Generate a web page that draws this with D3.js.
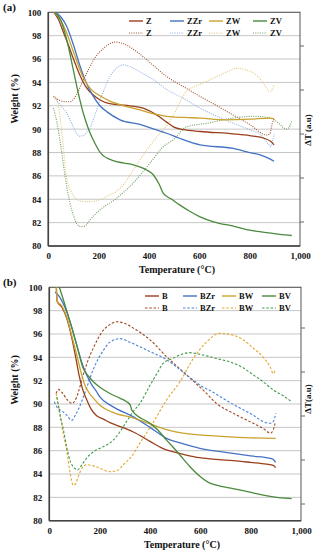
<!DOCTYPE html>
<html>
<head>
<meta charset="utf-8">
<script src="https://cdn.jsdelivr.net/npm/d3@7"></script>
<style>
  body { margin: 0; background: #fff; }
  svg { display: block; }
  text { font-family: "Liberation Serif", "Times New Roman", serif; font-weight: bold; fill: #111; }
</style>
</head>
<body>
<svg id="fig" width="316" height="550"></svg>
<script>
// Panel (a) - TG curves (solid) and DTA curves (dotted), [temperature, value]
const zTG   = [[22,100],[40,99.4],[60,98.3],[80,97.2],[100,96],[126,94.6],[150,93.6],[180,92.9],[206,92.5],[240,92.2],[272,92.1],[325,92.0],[377,91.8],[432,91.2],[470,90.6],[497,90.2],[540,89.95],[603,89.8],[735,89.6],[800,89.45],[860,89.2],[887,88.9],[897,88.65]];
const zzrTG = [[30,100],[50,99.6],[73,98.8],[100,97.2],[126,95.4],[150,94],[179,92.8],[205,92.0],[232,91.5],[285,90.8],[364,90.4],[420,90],[470,89.65],[523,89.2],[603,88.65],[735,88.35],[800,88.0],[841,87.8],[880,87.45],[897,87.25]];
const zwTG  = [[22,100],[40,99.6],[70,98.4],[100,96.6],[139,94.4],[170,93.4],[210,92.8],[245,92.4],[300,92.0],[364,91.65],[420,91.3],[470,91.1],[540,91.0],[603,90.95],[700,90.8],[800,90.85],[880,90.95],[897,90.9]];
const zvTG  = [[25,100],[50,99.3],[75,97.5],[100,95],[120,93],[140,91.3],[160,90],[185,88.8],[210,87.9],[258,87.3],[300,87.1],[338,86.95],[391,86.5],[417,86.1],[440,85.3],[457,84.5],[490,84],[523,83.5],[560,83],[603,82.5],[660,82.05],[735,81.7],[800,81.35],[868,81.15],[920,81.0],[967,80.9]];
const zDTA   = [[20,92.8],[42,92.5],[70,92.35],[86,92.35],[105,92.7],[120,93.3],[139,94.2],[160,95.1],[179,95.9],[219,96.9],[265,97.45],[300,97.3],[340,96.8],[377,96.2],[420,95.4],[470,94.5],[540,93.6],[603,92.8],[670,92.0],[735,91.2],[800,90.4],[868,89.5],[880,89.6],[890,90.5],[897,90.9]];
const zzrDTA = [[25,92.7],[50,92],[73,91.4],[95,90.4],[113,89.6],[126,89.4],[139,89.45],[155,89.8],[166,90.1],[185,91.2],[206,92.5],[245,94.5],[270,95.2],[298,95.5],[330,95.3],[364,94.9],[420,94.2],[470,93.4],[540,92.6],[603,91.8],[670,91.1],[735,90.5],[800,89.95],[850,89.4],[875,88.7],[885,88.5],[893,89.2],[898,89.6]];
const zwDTA  = [[25,92.8],[40,92.0],[55,89.5],[73,85.8],[90,84.7],[113,84.0],[140,83.8],[166,83.8],[210,84.0],[245,84.4],[272,84.7],[300,85.3],[338,86.5],[391,88.2],[430,89.3],[457,89.9],[497,91.2],[530,92.6],[550,93.3],[576,93.6],[620,94.0],[669,94.5],[710,94.9],[748,95.2],[780,95.1],[815,94.8],[850,94.1],[881,93.2],[890,93.4],[897,93.8]];
const zvDTA  = [[20,91.8],[35,90.5],[50,88.5],[70,85.5],[86,83.7],[100,82.6],[113,81.9],[130,81.65],[145,81.7],[166,82.25],[206,83.1],[272,84.1],[338,85.4],[404,87.1],[457,88.5],[497,89.1],[550,90.2],[630,90.5],[735,90.95],[815,91.1],[870,91.0],[897,90.8],[920,90.4],[945,90.0],[955,90.1],[967,90.65]];

// Panel (b)
const bTG   = [[28,100],[31,98.8],[50,98.3],[70,97.3],[90,95.6],[105,94],[118,92.5],[132,91.3],[148,90.4],[165,89.6],[188,89.0],[215,88.7],[241,88.4],[290,88.0],[334,87.6],[400,86.8],[450,86.2],[493,85.9],[540,85.65],[598,85.4],[660,85.25],[731,85.15],[800,85.0],[863,84.85],[890,84.75],[899,84.55]];
const bzrTG = [[23,99.6],[40,99.2],[69,97.9],[90,96.5],[109,95.05],[130,93.5],[148,92.5],[170,91.6],[188,91.05],[201,90.6],[250,89.8],[334,88.9],[400,88.0],[466,87.05],[530,86.6],[598,86.2],[700,85.85],[800,85.55],[877,85.35],[890,85.25],[899,85.0]];
const bwTG  = [[28,100],[31,98.8],[50,98.4],[70,97.4],[90,95.8],[109,94.2],[125,92.8],[140,91.7],[160,90.9],[175,90.5],[201,89.9],[250,89.3],[334,88.8],[400,88.3],[466,87.8],[530,87.5],[598,87.35],[700,87.2],[800,87.1],[899,87.05]];
const bvTG  = [[40,100],[55,99],[69,98],[90,96.5],[109,95.05],[135,93.05],[155,92.4],[175,91.9],[210,91.3],[241,90.9],[280,90.5],[307,90.2],[322,89.9],[327,89.5],[334,89.3],[400,88.35],[430,87.8],[466,86.9],[500,86.1],[532,85.3],[560,84.6],[598,83.8],[630,83.3],[664,83.05],[730,82.75],[797,82.45],[850,82.2],[890,82.05],[963,81.9]];
const bDTA   = [[27,90.9],[36,91.25],[50,91.0],[70,90.4],[89,90.05],[109,90.6],[122,91.5],[135,92.5],[155,93.8],[175,94.8],[214,96.3],[240,96.8],[267,97.05],[300,96.9],[334,96.5],[400,95.5],[466,94.05],[545,92.5],[620,91.0],[664,90.05],[731,89.2],[810,88.35],[850,87.9],[879,87.5],[890,87.8],[897,88.35]];
const bzrDTA = [[20,90.2],[30,89.75],[50,89.4],[69,89.05],[89,88.6],[105,89.1],[115,89.5],[130,90.3],[148,91.35],[168,92.6],[188,93.6],[215,94.6],[241,95.3],[281,95.6],[320,95.3],[360,94.9],[410,94.4],[466,93.8],[545,92.5],[600,91.6],[651,91.0],[704,90.3],[797,89.2],[876,88.35],[890,88.5],[900,89.2]];
const bwDTA  = [[27,90.9],[40,89.5],[55,87.5],[69,86.05],[82,84.2],[95,83.05],[105,83.2],[115,83.8],[130,84.5],[148,84.8],[175,84.7],[201,84.5],[241,84.2],[270,84.3],[294,84.8],[330,85.6],[360,86.65],[395,87.8],[426,88.9],[466,90.35],[519,91.9],[572,93.9],[624,95.3],[677,96.05],[731,95.9],[770,95.5],[810,94.8],[850,94.0],[877,93.2],[890,92.6],[897,92.9]];
const bvDTA  = [[30,90.6],[45,88.8],[55,87.9],[69,86.3],[85,85.0],[100,84.5],[112,84.35],[130,84.8],[148,85.35],[175,85.9],[201,86.2],[254,86.9],[280,87.6],[307,88.5],[335,89.4],[360,90.05],[400,91.6],[430,92.7],[453,93.5],[490,93.9],[519,94.2],[559,94.4],[610,94.2],[664,93.9],[731,93.5],[770,93.1],[810,92.5],[850,91.9],[890,91.2],[930,90.7],[963,90.2]];

const seriesNamesA = ["Z", "ZZr", "ZW", "ZV"];
const seriesNamesB = ["B", "BZr", "BW", "BV"];
const yTicks = [80, 82, 84, 86, 88, 90, 92, 94, 96, 98, 100];
const xTicks = [0, 200, 400, 600, 800, 1000];

const solidColors = ["#9a3f1c", "#4472c4", "#c9a22e", "#4a8a3c"];
const dotColorsA  = ["#a0522d", "#8fb0e4", "#e2c878", "#6f9e5c"];
const dashColorsB = ["#a0461e", "#4a82d4", "#e2a82c", "#3f9a4a"];

const svg = d3.select("#fig");

function drawPanel(opt) {
    const x = d3.scaleLinear().domain([0, 1000]).range([opt.left, opt.right]);
    const y = d3.scaleLinear().domain([80, 100]).range([opt.bottom, opt.top]);
    const g = svg.append("g");

    // gridlines
    g.append("g")
        .selectAll("line")
        .data(yTicks)
        .enter()
        .append("line")
        .attr("x1", opt.left).attr("x2", opt.right)
        .attr("y1", d => y(d)).attr("y2", d => y(d))
        .attr("stroke", "#c6c6c6")
        .attr("stroke-width", 1);

    // frame
    g.append("rect")
        .attr("x", opt.left).attr("y", opt.top)
        .attr("width", opt.right - opt.left).attr("height", opt.bottom - opt.top)
        .attr("fill", "none")
        .attr("stroke", "#555")
        .attr("stroke-width", 1);
    g.append("line")
        .attr("x1", opt.left).attr("x2", opt.left)
        .attr("y1", opt.top).attr("y2", opt.bottom)
        .attr("stroke", "#444").attr("stroke-width", 1.6);
    g.append("line")
        .attr("x1", opt.left).attr("x2", opt.right)
        .attr("y1", opt.bottom).attr("y2", opt.bottom)
        .attr("stroke", "#444").attr("stroke-width", 1.6);

    // right (ΔT) axis ticks, no labels
    const rTicks = d3.range(opt.rTick0, opt.bottom, 44);
    g.append("g")
        .selectAll("line")
        .data(rTicks)
        .enter()
        .append("line")
        .attr("x1", opt.right).attr("x2", opt.right + 4)
        .attr("y1", d => d).attr("y2", d => d)
        .attr("stroke", "#666");

    // y tick labels
    const yAxis = g.append("g")
        .attr("transform", `translate(${opt.left},0)`)
        .call(d3.axisLeft(y).tickValues(yTicks).tickSize(0).tickPadding(7));
    yAxis.select(".domain").remove();
    yAxis.selectAll("text").attr("font-size", "9px")
        .style("font-family", "'Liberation Serif', serif").style("font-weight", "bold");

    // x tick labels
    const xAxis = g.append("g")
        .attr("transform", `translate(0,${opt.bottom})`)
        .call(d3.axisBottom(x).tickValues(xTicks).tickSize(0).tickPadding(7));
    xAxis.select(".domain").remove();
    xAxis.selectAll("text").attr("font-size", "9px")
        .style("font-family", "'Liberation Serif', serif").style("font-weight", "bold");

    const line = d3.line()
        .x(d => x(d[0]))
        .y(d => y(d[1]))
        .curve(d3.curveMonotoneX);

    // DTA curves first, TG on top
    opt.dta.forEach((s, i) => {
        g.append("path")
            .attr("d", line(s))
            .attr("fill", "none")
            .attr("stroke", opt.dtaColors[i])
            .attr("stroke-width", opt.dtaWidth)
            .attr("stroke-dasharray", opt.dash);
    });
    opt.tg.forEach((s, i) => {
        g.append("path")
            .attr("d", line(s))
            .attr("fill", "none")
            .attr("stroke", solidColors[i])
            .attr("stroke-width", 1.3);
    });

    // legend
    const leg = g.append("g");
    opt.names.forEach((n, i) => {
        const lx = opt.legX[i];
        leg.append("line")
            .attr("x1", lx).attr("x2", lx + 14)
            .attr("y1", opt.legY).attr("y2", opt.legY)
            .attr("stroke", solidColors[i]).attr("stroke-width", 1.4);
        leg.append("text")
            .attr("x", lx + 17).attr("y", opt.legY + 3)
            .attr("font-size", "8.5px")
            .text(n);
        leg.append("line")
            .attr("x1", lx).attr("x2", lx + 14)
            .attr("y1", opt.legY + 12).attr("y2", opt.legY + 12)
            .attr("stroke", opt.dtaColors[i]).attr("stroke-width", 1.2)
            .attr("stroke-dasharray", opt.dash);
        leg.append("text")
            .attr("x", lx + 17).attr("y", opt.legY + 15)
            .attr("font-size", "8.5px")
            .text(n);
    });

    // titles
    g.append("text")
        .attr("x", 3).attr("y", opt.top - 1)
        .attr("font-size", "11px")
        .text(opt.tag);
    g.append("text")
        .attr("transform", `translate(18,${opt.wLabelY}) rotate(-90)`)
        .attr("text-anchor", "middle")
        .attr("font-size", "10px")
        .text("Weight (%)");
    g.append("text")
        .attr("x", opt.tLabelX).attr("y", opt.bottom + 27)
        .attr("text-anchor", "middle")
        .attr("font-size", "10px")
        .text("Temperature  (°C)");
    g.append("text")
        .attr("transform", `translate(311,${opt.dLabelY}) rotate(-90)`)
        .attr("text-anchor", "middle")
        .attr("font-size", "9px")
        .text(opt.dLabel);
}

drawPanel({
    tag: "(a)", left: 48.3, right: 300, top: 12.3, bottom: 246,
    tg: [zTG, zzrTG, zwTG, zvTG], dta: [zDTA, zzrDTA, zwDTA, zvDTA],
    dtaColors: dotColorsA, dash: "1,1.3", dtaWidth: 1.1,
    names: seriesNamesA, legX: [129, 170, 209, 253], legY: 21,
    rTick0: 46, wLabelY: 99, tLabelX: 177, dLabelY: 130, dLabel: "ΔT (a.u)"
});

drawPanel({
    tag: "(b)", left: 49.3, right: 301, top: 287.3, bottom: 520.7,
    tg: [bTG, bzrTG, bwTG, bvTG], dta: [bDTA, bzrDTA, bwDTA, bvDTA],
    dtaColors: dashColorsB, dash: "2.5,1.8", dtaWidth: 1.1,
    names: seriesNamesB, legX: [145, 183, 222, 262], legY: 296,
    rTick0: 328, wLabelY: 380, tLabelX: 182, dLabelY: 399, dLabel: "ΔT(a.u)"
});
</script>
</body>
</html>
